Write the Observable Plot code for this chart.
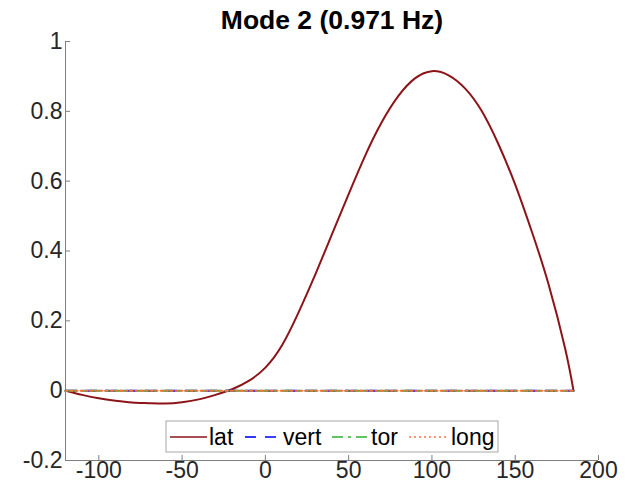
<!DOCTYPE html>
<html><head><meta charset="utf-8">
<script src="https://cdn.jsdelivr.net/npm/d3@7"></script>
<script src="https://cdn.jsdelivr.net/npm/@observablehq/plot@0.6"></script>
<style>body{margin:0;background:#fff;} svg{display:block;}</style>
</head><body><div id="chart"></div>
<script>
const title = "Mode 2 (0.971 Hz)";
const xPos = [-120,-110,-100,-90,-80,-70,-60,-50,-40,-30,-20,-10,0,10,20,30,40,50,60,70,80,90,100,110,120,130,140,150,160,170,180,185];
const lat = [0,-0.012,-0.022,-0.029,-0.034,-0.036,-0.037,-0.033,-0.025,-0.012,0.004,0.028,0.066,0.13,0.225,0.333,0.448,0.563,0.674,0.77,0.845,0.895,0.915,0.903,0.865,0.80,0.705,0.59,0.455,0.305,0.12,0];
const zeroX = [-120, 185];
const vert = [0, 0];
const tor = [0, 0];
const long = [0, 0];
const xTicks = [-100,-50,0,50,100,150,200];
const yTicks = [-0.2,0,0.2,0.4,0.6,0.8,1];
const xDomain = [-120, 200];
const yDomain = [-0.2, 1];
const colors = {lat:"#8c1418", vert:"#0000ff", tor:"#2fb02f", long:"#ff7040"};
const dashes = {lat:null, vert:"11 9", tor:"11 5 3 5", long:"2 3"};

const latData = xPos.map((x,i)=>({x, y:lat[i]}));
const zeroSeries = {vert, tor, long};
const zeroData = s => zeroX.map((x,i)=>({x, y:zeroSeries[s][i]}));

const font = "Helvetica, 'Liberation Sans', Arial, sans-serif";
const axisColor = "#7f7f7f";

const plot = Plot.plot({
  width: 635, height: 500,
  marginLeft: 65, marginRight: 37, marginTop: 41, marginBottom: 40,
  style: {fontFamily: font, fontSize: "23px", color: "#262626", background: "#fff"},
  x: {domain: xDomain},
  y: {domain: yDomain},
  marks: [
    Plot.ruleX([xDomain[0]], {stroke: axisColor, strokeWidth: 1}),
    Plot.ruleY([yDomain[0]], {stroke: axisColor, strokeWidth: 1}),
    Plot.axisX({ticks: xTicks, tickSize: -5, tickPadding: 6, stroke: axisColor, fill: "#262626", label: null, tickFormat: d => String(d)}),
    Plot.axisY({ticks: yTicks, tickSize: -5, tickPadding: 8, stroke: axisColor, fill: "#262626", label: null, tickFormat: d => String(d)}),
    Plot.line(latData, {x: "x", y: "y", stroke: colors.lat, strokeWidth: 2, curve: "natural"}),
    ...["vert","tor","long"].map(s => Plot.line(zeroData(s), {x: "x", y: "y", stroke: colors[s], strokeWidth: 2, strokeDasharray: dashes[s]})),
    Plot.text([title], {frameAnchor: "top", text: d => d, dy: -13, lineAnchor: "bottom", fontSize: 26.5, fontWeight: "bold", fill: "#000"})
  ]
});

// legend box
const svg = d3.select(plot);
const lg = svg.append("g").attr("font-family", font).attr("font-size", 23).attr("fill", "#000").attr("text-anchor", "start");
const bx = 166, by = 421, bw = 332, bh = 31;
lg.append("rect").attr("x", bx).attr("y", by).attr("width", bw).attr("height", bh)
  .attr("fill", "#fff").attr("stroke", "#a8a8a8").attr("stroke-width", 1);
const items = [
  {name: "lat", x1: 170, x2: 207, tx: 209},
  {name: "vert", x1: 245, x2: 281, tx: 283},
  {name: "tor", x1: 332, x2: 369, tx: 371},
  {name: "long", x1: 409, x2: 447, tx: 451}
];
const cy = by + bh/2 + 0.5;
items.forEach(it => {
  lg.append("line").attr("x1", it.x1).attr("x2", it.x2).attr("y1", cy).attr("y2", cy)
    .attr("stroke", colors[it.name]).attr("stroke-width", 1.6)
    .attr("stroke-dasharray", dashes[it.name]);
  lg.append("text").attr("x", it.tx).attr("y", cy).attr("dy", "0.35em").attr("text-anchor", "start").text(it.name);
});

document.getElementById("chart").appendChild(plot);
</script>
</body></html>
